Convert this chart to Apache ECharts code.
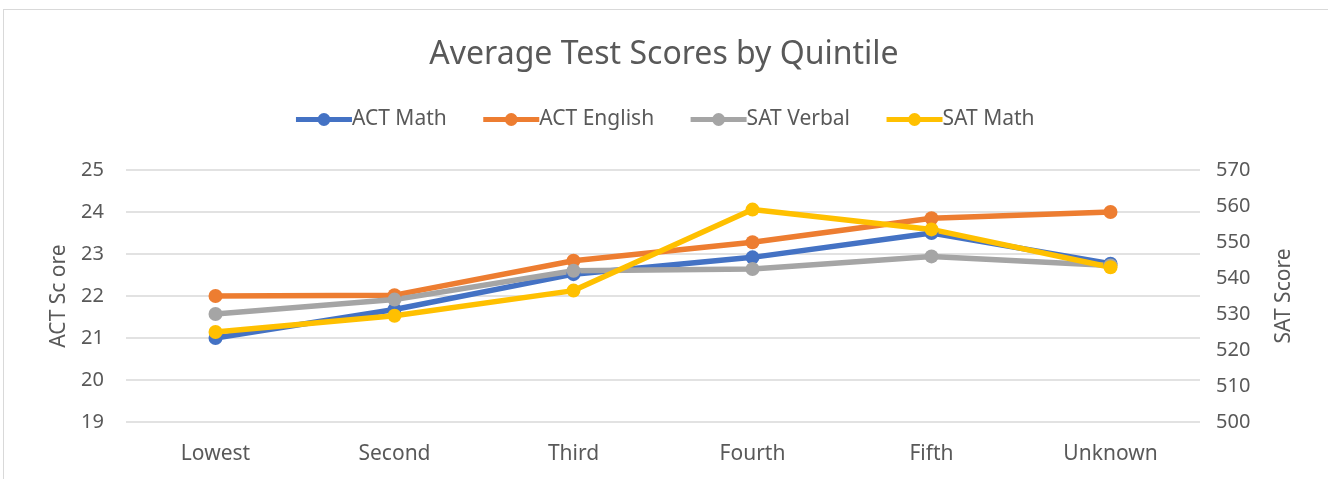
<!DOCTYPE html>
<html>
<head>
<meta charset="utf-8">
<script src="https://cdn.jsdelivr.net/npm/echarts@6/dist/echarts.min.js"></script>
<style>
  html, body { margin: 0; padding: 0; background: #fff; }
  #frame { position: absolute; left: 3px; top: 9px; width: 1340px; height: 480px; border: 1px solid #d9d9d9; }
  #chart { position: absolute; left: 0; top: 0; width: 1328px; height: 479px; }
</style>
</head>
<body>
<div id="frame"></div>
<div id="chart"></div>
<script>
var quintiles = ['Lowest', 'Second', 'Third', 'Fourth', 'Fifth', 'Unknown'];
var actMath = [21.0, 21.68, 22.52, 22.92, 23.5, 22.77];
var actEnglish = [22.0, 22.02, 22.84, 23.28, 23.85, 24.0];
var satVerbal = [530, 534, 542, 542.5, 546, 543.5];
var satMath = [525, 529.5, 536.5, 559, 553.5, 543];

var myChart = echarts.init(document.getElementById('chart'));
var txt = '#595959';
var font = 'Noto Sans';

function lineSeries(name, data, color, axis) {
    return {
        name: name,
        type: 'line',
        yAxisIndex: axis,
        data: data,
        symbol: 'circle',
        symbolSize: 14,
        lineStyle: { width: 5.5, color: color },
        itemStyle: { color: color },
        emphasis: { disabled: true }
    };
}

var option = {
    backgroundColor: 'transparent',
    animation: false,
    textStyle: { fontFamily: font },
    title: {
        text: 'Average Test Scores by Quintile',
        left: 'center',
        top: 34,
        textStyle: { fontFamily: font, fontSize: 32, fontWeight: 'normal', color: txt }
    },
    legend: {
        top: 104,
        left: 'center',
        itemWidth: 56,
        itemHeight: 16,
        itemGap: 34,
        lineStyle: { width: 5 },
        textStyle: { fontFamily: font, fontSize: 21, color: txt, padding: [0, 0, 0, -5] },
        data: ['ACT Math', 'ACT English', 'SAT Verbal', 'SAT Math']
    },
    grid: { left: 126, right: 128, top: 170, bottom: 57 },
    xAxis: {
        type: 'category',
        data: quintiles,
        axisLine: { show: false },
        axisTick: { show: false },
        axisLabel: { fontFamily: font, fontSize: 21, color: txt, margin: 22 }
    },
    yAxis: [{
        type: 'value',
        min: 19,
        max: 25,
        interval: 1,
        name: 'ACT Sc ore',
        nameLocation: 'middle',
        nameGap: 56,
        nameTextStyle: { fontFamily: font, fontSize: 21, color: txt },
        axisLine: { show: false },
        axisTick: { show: false },
        axisLabel: { fontFamily: font, fontSize: 20, color: txt, margin: 22 },
        splitLine: { lineStyle: { color: '#d9d9d9', width: 1.5 } }
    }, {
        type: 'value',
        min: 500,
        max: 570,
        interval: 10,
        name: 'SAT Score',
        nameLocation: 'middle',
        nameGap: 74,
        nameRotate: 90,
        nameTextStyle: { fontFamily: font, fontSize: 21, color: txt },
        axisLine: { show: false },
        axisTick: { show: false },
        axisLabel: { fontFamily: font, fontSize: 20, color: txt, margin: 16 },
        splitLine: { show: false }
    }],
    series: [
        lineSeries('ACT Math', actMath, '#4472C4', 0),
        lineSeries('ACT English', actEnglish, '#ED7D31', 0),
        lineSeries('SAT Verbal', satVerbal, '#A5A5A5', 1),
        lineSeries('SAT Math', satMath, '#FFC000', 1)
    ]
};
myChart.setOption(option);
</script>
</body>
</html>
